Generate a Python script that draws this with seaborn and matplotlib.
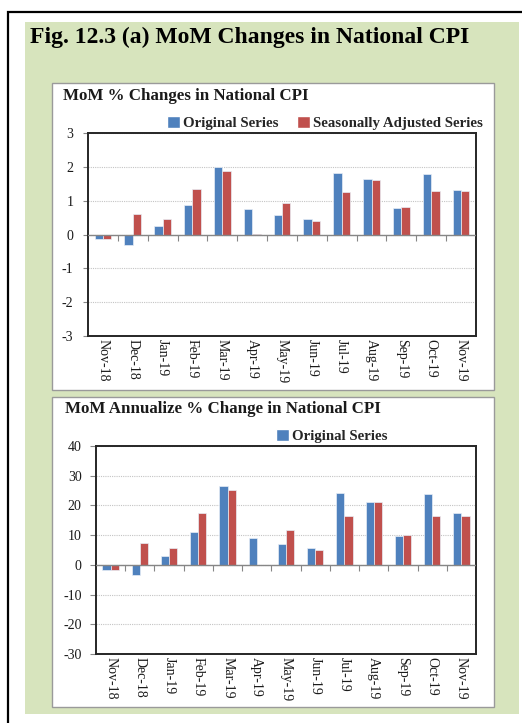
import numpy as np
import pandas as pd
import matplotlib
matplotlib.use("Agg")
import matplotlib.pyplot as plt
from matplotlib.patches import Rectangle, Patch
import seaborn as sns

# ---------------- data ----------------
months = ["Nov-18", "Dec-18", "Jan-19", "Feb-19", "Mar-19", "Apr-19", "May-19",
          "Jun-19", "Jul-19", "Aug-19", "Sep-19", "Oct-19", "Nov-19"]
mom_original = [-0.13, -0.30, 0.25, 0.86, 2.00, 0.74, 0.57, 0.47, 1.83, 1.65, 0.77, 1.80, 1.32]
mom_seasonal = [-0.13, 0.60, 0.47, 1.35, 1.87, 0.01, 0.93, 0.41, 1.25, 1.62, 0.80, 1.28, 1.28]
ann_original = [-1.7, -3.5, 3.1, 10.9, 26.5, 9.0, 7.1, 5.7, 24.3, 21.3, 9.6, 24.0, 17.4]
ann_seasonal = [-1.7, 7.5, 5.7, 17.3, 25.2, 0.1, 11.6, 5.0, 16.3, 21.3, 9.9, 16.6, 16.6]
series_names = ["Original Series", "Seasonally Adjusted Series"]
mom_yticks = [-3, -2, -1, 0, 1, 2, 3]
ann_yticks = [-30, -20, -10, 0, 10, 20, 30, 40]

fig_title = "Fig. 12.3 (a) MoM Changes in National CPI"
title1 = "MoM % Changes in National CPI"
title2 = "MoM Annualize % Change in National CPI"

BLUE = "#4F81BD"
RED = "#C0504D"

sns.set_style("white")
plt.rcParams["font.family"] = ["Liberation Serif", "DejaVu Serif"]

W, H = 522, 723
fig = plt.figure(figsize=(W / 100, H / 100), dpi=100)
fig.patch.set_facecolor("white")


def fx(x):
    return x / W


def fy(y):
    return 1 - y / H


def rect(x0, y0, x1, y1, **kw):
    r = Rectangle((fx(x0), fy(y1)), fx(x1) - fx(x0), fy(y0) - fy(y1),
                  transform=fig.transFigure, **kw)
    fig.add_artist(r)
    return r


# outer black frame (runs off the right/bottom)
rect(8, 12, 530, 735, facecolor="none", edgecolor="black", linewidth=1.6, zorder=-3)
# green panel
rect(25, 22, 519, 714, facecolor="#D7E4BD", edgecolor="none", zorder=-2)
# white chart boxes
rect(52, 83, 494, 390, facecolor="white", edgecolor="#9A9A9A", linewidth=1.0, zorder=-1)
rect(52, 397, 494, 707, facecolor="white", edgecolor="#9A9A9A", linewidth=1.0, zorder=-1)

fig.text(fx(30), fy(37), fig_title, fontsize=17, fontweight="bold",
         ha="left", va="center", color="black")
fig.text(fx(63), fy(96), title1, fontsize=12.2, fontweight="bold",
         ha="left", va="center", color="#1a1a1a")
fig.text(fx(65), fy(409), title2, fontsize=12.2, fontweight="bold",
         ha="left", va="center", color="#1a1a1a")


def draw(ax, orig, seas, yticks, ticklen, pad):
    df = pd.DataFrame({
        "month": months * 2,
        "value": list(orig) + list(seas),
        "series": [series_names[0]] * len(months) + [series_names[1]] * len(months),
    })
    sns.barplot(data=df, x="month", y="value", hue="series",
                palette=[BLUE, RED], width=0.56, saturation=1, ax=ax,
                edgecolor="#E8EEF6", linewidth=0.5, legend=False, zorder=3)
    ax.set_xlim(-0.5, len(months) - 0.5)
    ax.set_ylim(yticks[0], yticks[-1])
    ax.set_yticks(yticks)
    ax.set_yticklabels([str(t) for t in yticks])
    ax.set_xlabel("")
    ax.set_ylabel("")
    ax.set_axisbelow(True)
    ax.yaxis.grid(True, linestyle=(0, (1, 1)), color="#C4C4C4", linewidth=0.8)
    ax.xaxis.grid(False)
    for s in ax.spines.values():
        s.set_visible(True)
        s.set_color("#262626")
        s.set_linewidth(1.4)
    ax.tick_params(axis="y", direction="out", length=ticklen, width=0.8,
                   color="#868686", pad=pad, labelsize=10, left=True, labelcolor="#1a1a1a")
    ax.tick_params(axis="x", length=0, pad=2, labelsize=10, labelcolor="#1a1a1a")
    for lab in ax.get_xticklabels():
        lab.set_rotation(270)
        lab.set_ha("center")
        lab.set_va("top")
    # zero axis line with category boundary ticks
    ax.axhline(0, color="#868686", linewidth=1.0, zorder=4)
    bounds = np.arange(len(months) + 1) - 0.5
    ax.plot(bounds[1:-1], np.zeros(len(bounds) - 2), ls="none", marker=3,
            markersize=4, color="#868686", markeredgewidth=0.8, zorder=4,
            clip_on=False)


ax1 = fig.add_axes([fx(88), fy(336), fx(476) - fx(88), fy(133) - fy(336)])
ax1.set_zorder(2)
draw(ax1, mom_original, mom_seasonal, mom_yticks, 3.6, 7)

ax2 = fig.add_axes([fx(96), fy(654), fx(476) - fx(96), fy(446) - fy(654)])
ax2.set_zorder(2)
draw(ax2, ann_original, ann_seasonal, ann_yticks, 4.3, 6)

leg_kw = dict(frameon=False, handlelength=0.85, handleheight=0.85,
              handletextpad=0.2, columnspacing=1.3, borderaxespad=0,
              prop={"weight": "bold", "size": 10.7})
h1 = [Patch(facecolor=BLUE), Patch(facecolor=RED)]
fig.legend(h1, series_names, loc="center", ncol=2,
           bbox_to_anchor=(fx(325), fy(123)), bbox_transform=fig.transFigure, **leg_kw)
fig.legend([Patch(facecolor=BLUE)], [series_names[0]], loc="center", ncol=1,
           bbox_to_anchor=(fx(332), fy(436)), bbox_transform=fig.transFigure, **leg_kw)

fig.savefig("out.png", dpi=100)
